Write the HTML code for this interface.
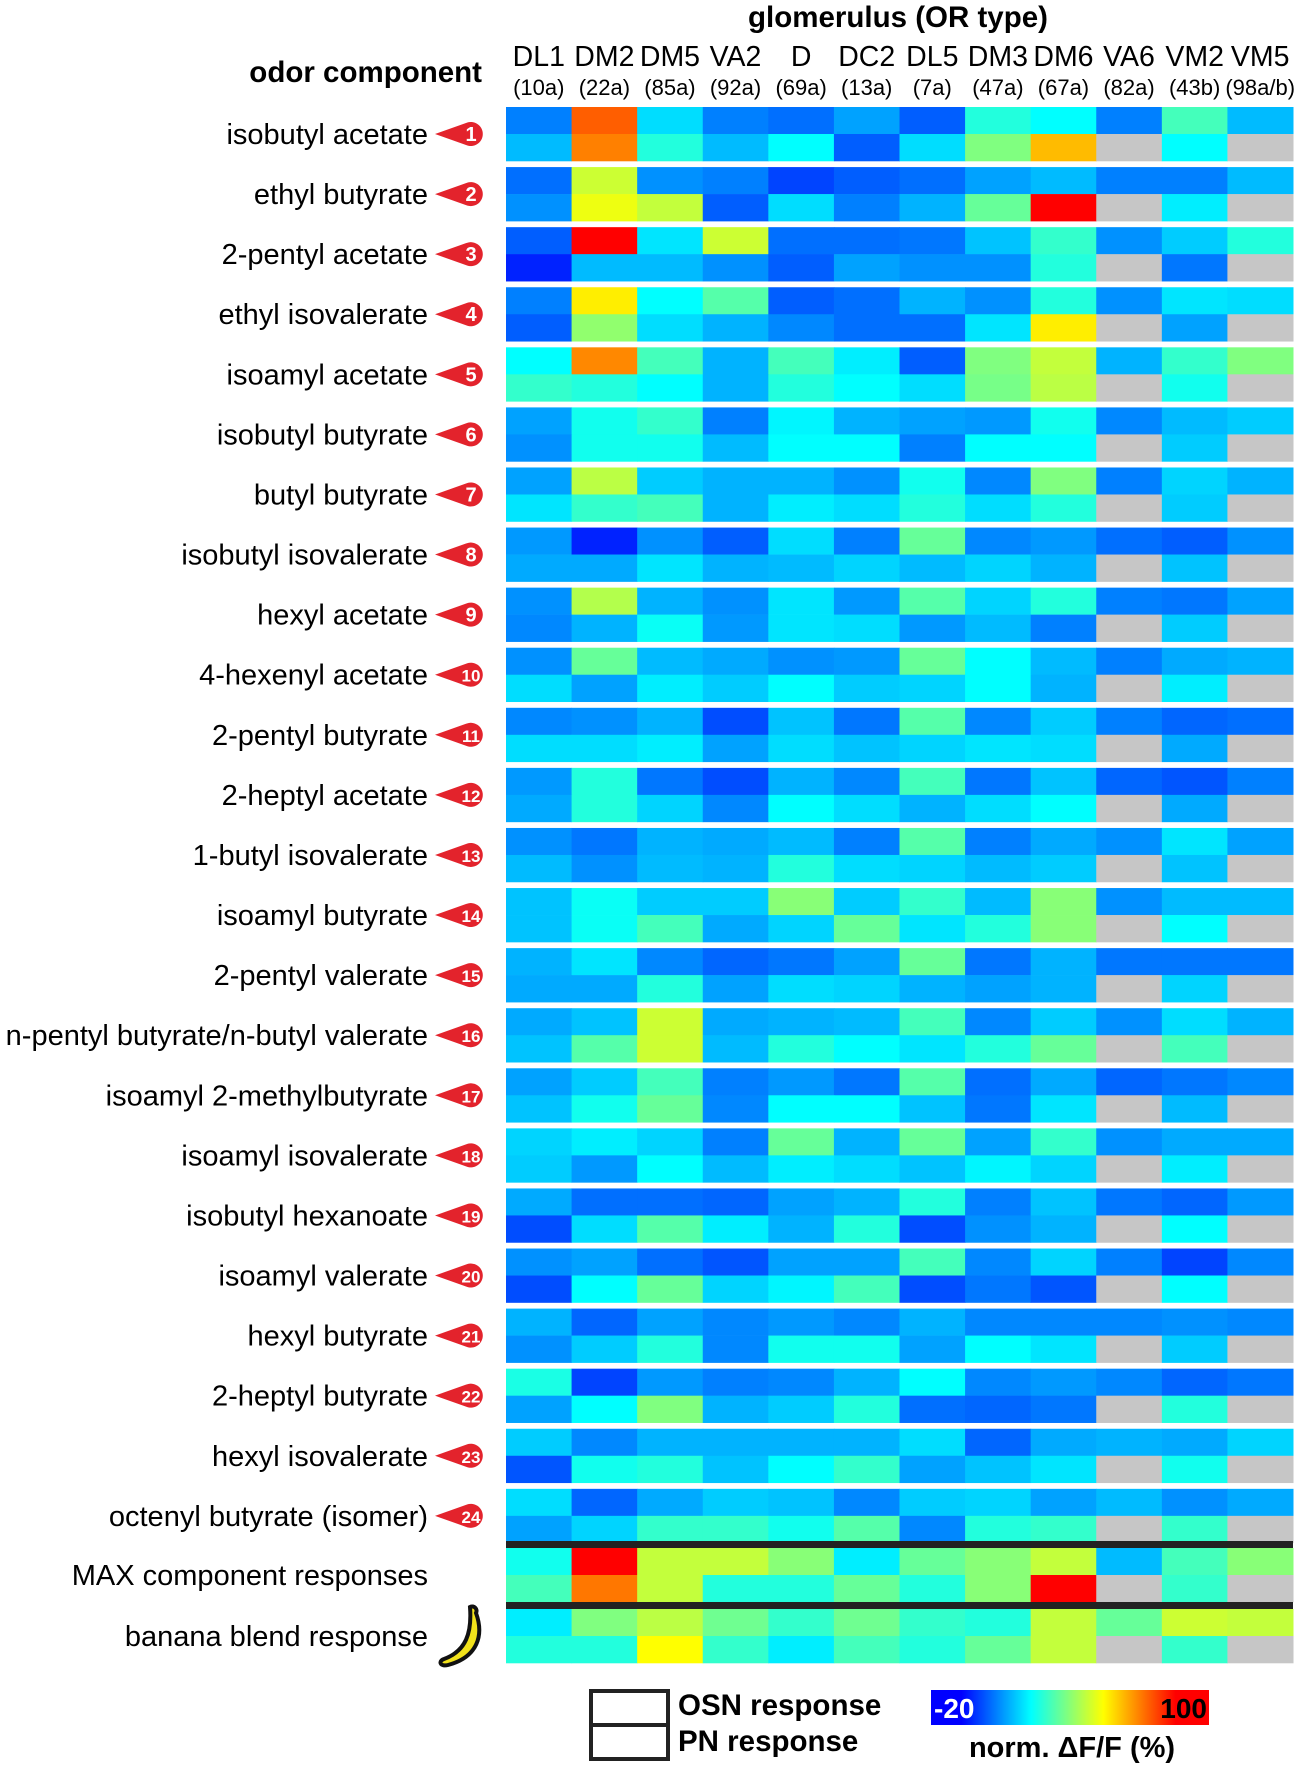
<!DOCTYPE html>
<html><head><meta charset="utf-8"><style>
body{margin:0;background:#fff;}
svg{display:block;font-family:"Liberation Sans",Arial,sans-serif;}
</style></head><body>
<svg id="chart" width="1299" height="1770" viewBox="0 0 1299 1770" xmlns="http://www.w3.org/2000/svg">
<text x="898" y="27" text-anchor="middle" font-size="29.5" font-weight="bold">glomerulus (OR type)</text>
<text x="482" y="82" text-anchor="end" font-size="29.5" font-weight="bold">odor component</text>
<g id="cols"></g><g id="rows"></g><g id="cells"></g>
<rect x="506" y="1541" width="787" height="7" fill="#222"/>
<rect x="506" y="1602" width="787" height="7" fill="#222"/>
<g transform="translate(440,1605)">
<path d="M30 2 C34 0 38 4 36 8 C44 30 38 52 8 60 C0 62 -2 56 4 54 C26 46 32 28 30 2 Z" fill="#f2e21b" stroke="#111" stroke-width="4"/>
</g>
<g>
<rect x="591" y="1691" width="77" height="34" fill="#fff" stroke="#222" stroke-width="4"/>
<rect x="591" y="1725" width="77" height="34" fill="#fff" stroke="#222" stroke-width="4"/>
<text x="678" y="1715" font-size="29.5" font-weight="bold">OSN response</text>
<text x="678" y="1751" font-size="29.5" font-weight="bold">PN response</text>
</g>
<defs><linearGradient id="jetg" x1="0" x2="1" y1="0" y2="0">
<stop offset="0" stop-color="#0000ff"/><stop offset="0.11" stop-color="#0000ff"/><stop offset="0.36" stop-color="#00ffff"/><stop offset="0.62" stop-color="#ffff00"/><stop offset="0.88" stop-color="#ff0000"/><stop offset="1" stop-color="#ff0000"/></linearGradient></defs>
<rect x="931" y="1690" width="278" height="35" fill="url(#jetg)"/>
<text x="934" y="1718" font-size="28" font-weight="bold" fill="#fff">-20</text>
<text x="1207" y="1718" font-size="28" font-weight="bold" text-anchor="end">100</text>
<text x="1072" y="1757" font-size="29" font-weight="bold" text-anchor="middle">norm. ΔF/F (%)</text>
</svg>
<script>
const glomeruli=["DL1","DM2","DM5","VA2","D","DC2","DL5","DM3","DM6","VA6","VM2","VM5"];
const receptors=["(10a)","(22a)","(85a)","(92a)","(69a)","(13a)","(7a)","(47a)","(67a)","(82a)","(43b)","(98a/b)"];
const odors=["isobutyl acetate","ethyl butyrate","2-pentyl acetate","ethyl isovalerate","isoamyl acetate","isobutyl butyrate","butyl butyrate","isobutyl isovalerate","hexyl acetate","4-hexenyl acetate","2-pentyl butyrate","2-heptyl acetate","1-butyl isovalerate","isoamyl butyrate","2-pentyl valerate","n-pentyl butyrate/n-butyl valerate","isoamyl 2-methylbutyrate","isoamyl isovalerate","isobutyl hexanoate","isoamyl valerate","hexyl butyrate","2-heptyl butyrate","hexyl isovalerate","octenyl butyrate (isomer)","MAX component responses","banana blend response"];
const N=null;
const osn=[
[10,74,21,10,8,14,6,29,25,10,33,17],
[8,49,12,10,3,6,8,14,17,10,10,17],
[6,85,22,49,8,8,9,18,31,12,19,29],
[10,57,25,35,6,8,16,12,29,12,22,21],
[25,69,33,16,33,23,6,40,48,16,31,40],
[14,27,31,10,24,16,14,13,27,11,17,19],
[14,47,19,16,16,12,27,11,40,10,20,16],
[13,-1,12,6,21,10,37,11,13,8,6,12],
[12,46,16,12,22,13,35,20,29,10,9,14],
[12,37,17,15,12,13,37,25,17,10,15,16],
[11,12,16,4,18,9,35,11,19,10,7,8],
[13,29,9,4,16,11,33,9,18,7,5,10],
[12,9,16,15,17,10,35,10,15,12,22,14],
[18,26,19,19,41,19,31,17,41,12,17,17],
[16,22,11,7,9,14,37,9,16,9,9,9],
[15,18,49,15,16,17,33,11,19,12,21,16],
[14,19,33,10,13,9,35,8,15,7,9,11],
[20,23,20,10,37,16,37,14,31,12,15,15],
[15,8,8,7,14,16,29,10,18,9,7,13],
[12,14,8,5,14,14,33,11,20,10,3,11],
[16,7,14,11,13,11,16,11,11,11,12,11],
[28,3,13,10,11,16,25,11,13,11,7,9],
[19,11,16,16,16,16,21,7,15,16,15,20],
[21,7,15,19,18,11,19,20,14,17,12,15],
[27,85,48,48,41,23,37,41,48,17,33,41],
[23,40,47,38,31,38,31,29,48,37,49,48]];
const pn=[
[17,70,29,17,25,6,21,40,63,N,25,N],
[12,53,48,6,21,10,16,37,85,N,23,N],
[-1,17,17,12,6,14,12,12,29,N,9,N],
[6,42,21,16,11,8,8,22,57,N,14,N],
[31,29,25,16,29,25,21,39,47,N,27,N],
[12,27,27,17,25,25,10,25,25,N,19,N],
[22,31,33,16,23,21,29,21,29,N,19,N],
[15,15,22,16,17,20,17,20,16,N,18,N],
[11,16,26,13,22,21,13,17,10,N,19,N],
[21,14,23,19,25,19,20,25,16,N,23,N],
[21,21,23,14,21,18,20,22,21,N,15,N],
[15,29,20,11,25,21,16,21,25,N,15,N],
[17,12,17,16,29,21,20,17,19,N,18,N],
[18,26,33,15,20,37,22,29,41,N,25,N],
[15,15,29,14,21,20,16,14,16,N,20,N],
[18,35,49,17,29,25,22,29,37,N,33,N],
[18,27,37,11,25,25,18,9,22,N,17,N],
[19,13,25,17,23,21,18,24,20,N,23,N],
[4,21,35,23,16,29,4,12,16,N,25,N],
[4,25,37,20,24,33,4,9,5,N,25,N],
[12,19,29,11,27,27,14,25,22,N,19,N],
[14,25,40,16,19,29,8,7,9,N,29,N],
[5,27,29,18,25,31,14,18,22,N,27,N],
[14,20,31,31,27,35,11,29,31,N,31,N],
[33,71,48,29,29,37,29,41,85,N,31,N],
[29,29,55,31,23,33,29,37,48,N,31,N]];

const NS="http://www.w3.org/2000/svg";
const X0=506,CW=787/12,Y0=107,P=60.08,BH=54;
function xPos(i){return X0+i*CW;}
function blockTop(r){return r<24?Y0+r*P:(r===24?1548:1609);}
function clamp(v){return Math.max(0,Math.min(1,v));}
function jet(val){const v=(val+20)/120;const r=clamp(1.5-Math.abs(4*v-3)),g=clamp(1.5-Math.abs(4*v-2)),b=clamp(1.5-Math.abs(4*v-1));
return "rgb("+Math.round(r*255)+","+Math.round(g*255)+","+Math.round(b*255)+")";}
function mk(tag,attrs,parent){const e=document.createElementNS(NS,tag);for(const k in attrs)e.setAttribute(k,attrs[k]);parent.appendChild(e);return e;}
const cols=document.getElementById('cols'),rows=document.getElementById('rows'),cells=document.getElementById('cells');
glomeruli.forEach((g,i)=>{
 const cx=xPos(i)+CW/2;
 const t=mk('text',{x:cx,y:66,'text-anchor':'middle','font-size':28.5},cols);t.textContent=g;
 
 
 const s=mk('text',{x:cx,y:95,'text-anchor':'middle','font-size':22},cols);s.textContent=receptors[i];
 
 
});
odors.forEach((o,r)=>{
 const top=blockTop(r),cy=top+BH/2;
 const t=mk('text',{x:428,y:cy+10,'text-anchor':'end','font-size':29},rows);t.textContent=o;
 
 
 if(r<24){
  const bx=471;
  const p=mk('path',{d:"M"+(bx-36)+" "+cy+" L"+(bx-5)+" "+(cy-11)+" A12 12 0 1 1 "+(bx-5)+" "+(cy+11)+" Z",fill:"#e3232c"},rows);
  
  
  const n=mk('text',{x:bx,y:cy+7,'text-anchor':'middle','font-size':r<9?20:17,'font-weight':'bold',fill:'#fff'},rows);n.textContent=String(r+1);
  
  
 }
 [osn[r],pn[r]].forEach((vals,k)=>{
  vals.forEach((v,c)=>{
   const rc=mk('rect',{x:xPos(c),y:top+k*BH/2,width:CW+0.5,height:BH/2+0.3,fill:v===null?'#c6c6c6':jet(v)},cells);
   
   
  });
 });
});
</script>
</body></html>
